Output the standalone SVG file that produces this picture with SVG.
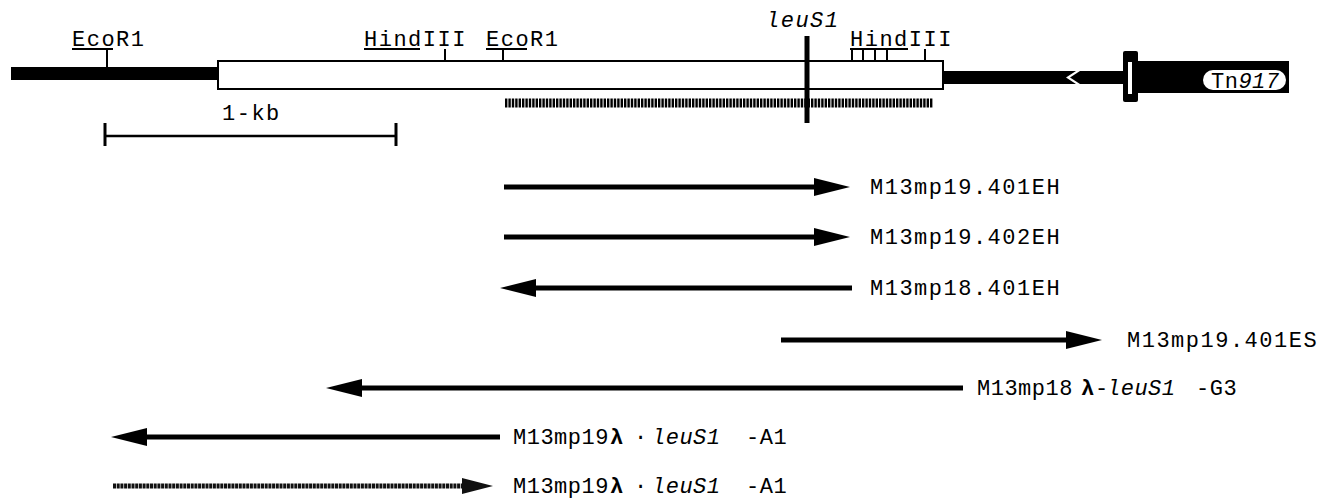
<svg xmlns="http://www.w3.org/2000/svg" width="1325" height="503" viewBox="0 0 1325 503">
<style>
.t{font-family:"Liberation Mono","DejaVu Sans Mono",monospace;font-size:22px;letter-spacing:1.5px;fill:#000}
.n{letter-spacing:0.5px}
.i{font-style:italic}
.ln{stroke:#000;stroke-width:5;fill:none}
.tk{stroke:#000;stroke-width:2;fill:none}
</style>
<defs>
<marker id="ah" markerUnits="userSpaceOnUse" markerWidth="36" markerHeight="18" refX="0" refY="9" orient="auto" overflow="visible">
<path d="M0,0 L36,9 L0,18 z" fill="#000"/>
</marker>
<marker id="ah2" markerUnits="userSpaceOnUse" markerWidth="31" markerHeight="16" refX="0" refY="8" orient="auto" overflow="visible">
<path d="M0,0 L31,8 L0,16 z" fill="#111"/>
</marker>
</defs>
<rect width="1325" height="503" fill="#fff"/>

<g id="map">
<rect x="11" y="67" width="207" height="13" fill="#000"/>
<rect x="218" y="61" width="725" height="28" fill="#fff" stroke="#000" stroke-width="2"/>
<polygon points="943,71 1076,71 1066,77.5 1076,84 943,84" fill="#000"/>
<polygon points="1080,71 1124,71 1124,84 1080,84 1070,77.5" fill="#000"/>
<rect x="1138" y="61" width="151" height="32" fill="#000"/>
<rect x="1123" y="51" width="15" height="51" rx="2" fill="#000"/>
<rect x="1128" y="62" width="4" height="32" fill="#fff"/>
<rect x="1203" y="70" width="83" height="20" rx="10" fill="#fff"/>
<text class="t" x="1211" y="88" style="letter-spacing:0.5px">Tn<tspan class="i">917</tspan></text>
<line x1="505" y1="103" x2="933" y2="103" stroke="#000" stroke-width="9" stroke-dasharray="2.4 1"/>
<line x1="807" y1="36" x2="807" y2="123" stroke="#000" stroke-width="5"/>
</g>

<g id="sites">
<text class="t" x="72" y="46">EcoR1</text>
<line class="tk" x1="72" y1="49" x2="113" y2="49"/>
<line class="tk" x1="107" y1="49" x2="107" y2="67"/>
<text class="t" x="364" y="46">HindIII</text>
<line class="tk" x1="364" y1="49" x2="420" y2="49"/>
<line class="tk" x1="445" y1="49" x2="445" y2="61"/>
<text class="t" x="486" y="46">EcoR1</text>
<line class="tk" x1="486" y1="49" x2="527" y2="49"/>
<line class="tk" x1="503" y1="49" x2="503" y2="61"/>
<text class="t i" x="766" y="27">leuS1</text>
<text class="t" x="850" y="46">HindIII</text>
<line class="tk" x1="850" y1="49" x2="908" y2="49"/>
<line class="tk" x1="852" y1="49" x2="852" y2="61"/>
<line class="tk" x1="863" y1="49" x2="863" y2="61"/>
<line class="tk" x1="875" y1="49" x2="875" y2="61"/>
<line class="tk" x1="887" y1="49" x2="887" y2="61"/>
<line class="tk" x1="925" y1="49" x2="925" y2="61"/>
</g>

<g id="scale">
<line x1="105" y1="136" x2="396" y2="136" stroke="#000" stroke-width="2.5"/>
<line x1="105" y1="123" x2="105" y2="146" stroke="#000" stroke-width="3"/>
<line x1="396" y1="123" x2="396" y2="146" stroke="#000" stroke-width="3"/>
<text class="t" x="222" y="120">1-kb</text>
</g>

<g id="connectors">
<line class="ln" x1="504" y1="187" x2="814" y2="187" marker-end="url(#ah)"/>
<line class="ln" x1="504" y1="237" x2="814" y2="237" marker-end="url(#ah)"/>
<line class="ln" x1="852" y1="288" x2="536" y2="288" marker-end="url(#ah)"/>
<line class="ln" x1="781" y1="340" x2="1066" y2="340" marker-end="url(#ah)"/>
<line class="ln" x1="963" y1="388" x2="362" y2="388" marker-end="url(#ah)"/>
<line class="ln" x1="500" y1="437" x2="147" y2="437" marker-end="url(#ah)"/>
<line x1="113" y1="486" x2="462" y2="486" stroke="#111" stroke-width="5" stroke-dasharray="3 0.7" marker-end="url(#ah2)"/>
</g>

<g id="labels">
<text class="t" x="870" y="194">M13mp19.401EH</text>
<text class="t" x="870" y="244">M13mp19.402EH</text>
<text class="t" x="870" y="295">M13mp18.401EH</text>
<text class="t" x="1127" y="347">M13mp19.401ES</text>
<text class="t n" x="977" y="395">M13mp18<tspan x="1081" font-weight="bold">λ</tspan><tspan x="1095">-</tspan><tspan x="1107" class="i">leuS1</tspan><tspan x="1196">-G3</tspan></text>
<text class="t n" x="513" y="444">M13mp19<tspan x="610" font-weight="bold">λ</tspan><tspan x="634">·</tspan><tspan x="652" class="i">leuS1</tspan><tspan x="746">-A1</tspan></text>
<text class="t n" x="513" y="493">M13mp19<tspan x="610" font-weight="bold">λ</tspan><tspan x="634">·</tspan><tspan x="652" class="i">leuS1</tspan><tspan x="746">-A1</tspan></text>
</g>
</svg>
